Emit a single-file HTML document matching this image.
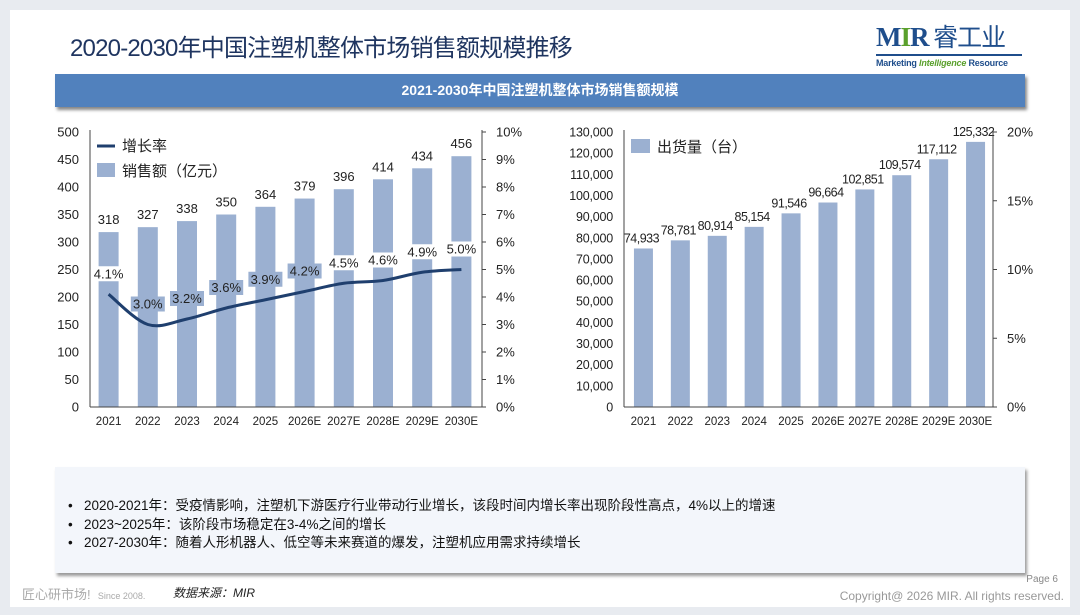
<!DOCTYPE html>
<html><head><meta charset="utf-8">
<style>
body{margin:0;width:1080px;height:615px;background:#e8ebf0;font-family:"Liberation Sans","Noto Sans CJK SC",sans-serif;overflow:hidden;position:relative}
.card{position:absolute;left:10px;top:10px;width:1060px;height:597px;background:#fff}
.abs{position:absolute}
svg text{font-family:"Liberation Sans","Noto Sans CJK SC",sans-serif}
</style></head><body>
<div class="card"></div>
<div class="abs" style="left:70px;top:28px;font-size:24px;color:#1f3560;letter-spacing:-0.8px">2020-2030年中国注塑机整体市场销售额规模推移</div>
<div class="abs" style="left:876px;top:21px;width:150px">
 <div style="font-family:'Liberation Serif','Noto Serif CJK SC',serif;font-weight:bold;font-size:27px;line-height:30px;color:#1f4e8c;letter-spacing:-1px">M<span style="color:#5aa02c">I</span>R<span style="font-family:'Noto Sans CJK SC',sans-serif;font-weight:normal;font-size:25px;color:#1f4e8c"> 睿工业</span></div>
 <div style="border-top:2px solid #1f4e8c;margin-top:2px;width:146px;font-size:9px;font-weight:bold;color:#1f4e8c;padding-top:2px;letter-spacing:-0.2px">Marketing <i style="color:#5aa02c">Intelligence</i> Resource</div>
</div>
<div class="abs" style="left:55px;top:74px;width:970px;height:33px;background:#5181bd;box-shadow:2px 3px 3px #888;color:#fff;font-weight:bold;font-size:14px;line-height:33px;text-align:center">2021-2030年中国注塑机整体市场销售额规模</div>

<svg class="abs" style="left:0;top:0" width="1080" height="460" id="charts"></svg>

<div class="abs" style="left:55px;top:467px;width:970px;height:106px;background:#f3f6fb;box-shadow:2px 3px 3px #999"></div>
<div class="abs" style="left:68px;top:497px;font-size:13.5px;line-height:18.5px;color:#111">
 <div>•&nbsp;&nbsp; 2020-2021年：受疫情影响，注塑机下游医疗行业带动行业增长，该段时间内增长率出现阶段性高点，4%以上的增速</div>
 <div>•&nbsp;&nbsp; 2023~2025年：该阶段市场稳定在3-4%之间的增长</div>
 <div>•&nbsp;&nbsp; 2027-2030年：随着人形机器人、低空等未来赛道的爆发，注塑机应用需求持续增长</div>
</div>
<div class="abs" style="left:22px;top:584px;font-size:13px;color:#aaa">匠心研市场!&nbsp; <span style="font-size:9px">Since 2008.</span></div>
<div class="abs" style="left:173px;top:584px;font-size:12px;color:#222;font-style:italic">数据来源：MIR</div>
<div class="abs" style="right:22px;top:574px;font-size:10px;color:#888">Page 6</div>
<div class="abs" style="right:16px;top:589px;font-size:12px;color:#999">Copyright@ 2026 MIR. All rights reserved.</div>

<script>
const categories=["2021","2022","2023","2024","2025","2026E","2027E","2028E","2029E","2030E"];
const salesValues=[318,327,338,350,364,379,396,414,434,456];
const growthRates=[4.1,3.0,3.2,3.6,3.9,4.2,4.5,4.6,4.9,5.0];
const shipmentValues=[74933,78781,80914,85154,91546,96664,102851,109574,117112,125332];
const leftTicks=[0,50,100,150,200,250,300,350,400,450,500];
const pctTicks=[0,1,2,3,4,5,6,7,8,9,10];
const shipTicks=[0,10000,20000,30000,40000,50000,60000,70000,80000,90000,100000,110000,120000,130000];
const shipPctTicks=[0,5,10,15,20];

const svg=document.getElementById('charts');
const NS='http://www.w3.org/2000/svg';
function mk(tag,attrs,parent){const e=document.createElementNS(NS,tag);for(const k in attrs)e.setAttribute(k,attrs[k]);(parent||svg).appendChild(e);return e;}
function txt(s,x,y,attrs){const e=mk('text',Object.assign({x:x,y:y,'font-size':13,fill:'#222'},attrs||{}));e.textContent=s;return e;}
const BAR='#9bb0d1';
const Y0=407,Y1=132;

// left chart
const L={x0:90,x1:482,max:500,pmax:10};
const ly=v=>Y0-(v/L.max)*(Y0-Y1);
const lpy=v=>Y0-(v/L.pmax)*(Y0-Y1);
const lstep=(L.x1-L.x0)/categories.length;
const lx=i=>L.x0+lstep*(i+0.5)-1;
leftTicks.forEach(t=>{const e=txt(String(t),79,ly(t)+4.5,{'text-anchor':'end'});

});
pctTicks.forEach(t=>{const l=mk('line',{x1:L.x1,x2:L.x1+4,y1:lpy(t),y2:lpy(t),stroke:'#444'});


const e=txt(t+'%',496,lpy(t)+4.5,{});

});
salesValues.forEach((v,i)=>{const r=mk('rect',{x:lx(i)-10,y:ly(v),width:20,height:Y0-ly(v),fill:BAR});


const t=txt(String(v),lx(i),ly(v)-8,{'text-anchor':'middle'});


const c=txt(categories[i],lx(i),425,{'text-anchor':'middle','font-size':11.5});

});
let a=mk('line',{x1:L.x0,x2:L.x0,y1:Y1-2,y2:Y0,stroke:'#444'});
a=mk('line',{x1:L.x1,x2:L.x1,y1:Y1-2,y2:Y0,stroke:'#444'});
a=mk('line',{x1:L.x0,x2:L.x1,y1:Y0,y2:Y0,stroke:'#444'});
const pts=growthRates.map((v,i)=>[lx(i),lpy(v)]);
let d='M'+pts[0][0]+','+pts[0][1];
for(let i=0;i<pts.length-1;i++){const p0=pts[Math.max(0,i-1)],p1=pts[i],p2=pts[i+1],p3=pts[Math.min(pts.length-1,i+2)];
d+=' C'+(p1[0]+(p2[0]-p0[0])/6)+','+(p1[1]+(p2[1]-p0[1])/6)+' '+(p2[0]-(p3[0]-p1[0])/6)+','+(p2[1]-(p3[1]-p1[1])/6)+' '+p2[0]+','+p2[1];}
const gl=mk('path',{d:d,fill:'none',stroke:'#1f3f6e','stroke-width':3});


growthRates.forEach((v,i)=>{const s=v.toFixed(1)+'%';const y=lpy(v)-17;
const bg=mk('rect',{x:lx(i)-17,y:y-11,width:34,height:15,fill:(i<1||i>5)?'#fff':BAR});


const t=txt(s,lx(i),y+1,{'text-anchor':'middle'});

});
let lg=mk('line',{x1:97,x2:115,y1:146,y2:146,stroke:'#1f3f6e','stroke-width':3});
lg=txt('增长率',122,151,{'font-size':15});
lg=mk('rect',{x:97,y:163,width:18,height:14,fill:BAR});
lg=txt('销售额（亿元）',122,176,{'font-size':15});

// right chart
const R={x0:624,x1:993,max:130000,pmax:20};
const ry=v=>Y0-(v/R.max)*(Y0-Y1);
const rpy=v=>Y0-(v/R.pmax)*(Y0-Y1);
const rstep=(R.x1-R.x0)/categories.length;
const rx=i=>R.x0+rstep*(i+0.5)+1;
shipTicks.forEach(t=>{const e=txt(t.toLocaleString('en-US'),613,ry(t)+4.5,{'text-anchor':'end','font-size':12.5,'letter-spacing':'-0.2'});

});
shipPctTicks.forEach(t=>{const l=mk('line',{x1:R.x1,x2:R.x1+4,y1:rpy(t),y2:rpy(t),stroke:'#444'});


const e=txt(t+'%',1007,rpy(t)+4.5,{});

});
shipmentValues.forEach((v,i)=>{const r=mk('rect',{x:rx(i)-9.5,y:ry(v),width:19,height:Y0-ry(v),fill:BAR});


const t=txt(v.toLocaleString('en-US'),rx(i)-2,ry(v)-6,{'text-anchor':'middle','font-size':12.5,'letter-spacing':'-0.5'});


const c=txt(categories[i],rx(i),425,{'text-anchor':'middle','font-size':11.5});

});
a=mk('line',{x1:R.x0,x2:R.x0,y1:Y1-2,y2:Y0,stroke:'#444'});
a=mk('line',{x1:R.x1,x2:R.x1,y1:Y1-2,y2:Y0,stroke:'#444'});
a=mk('line',{x1:R.x0,x2:R.x1,y1:Y0,y2:Y0,stroke:'#444'});
lg=mk('rect',{x:631,y:139,width:19,height:14,fill:BAR});
lg=txt('出货量（台）',657,152,{'font-size':15});
</script>
</body></html>
